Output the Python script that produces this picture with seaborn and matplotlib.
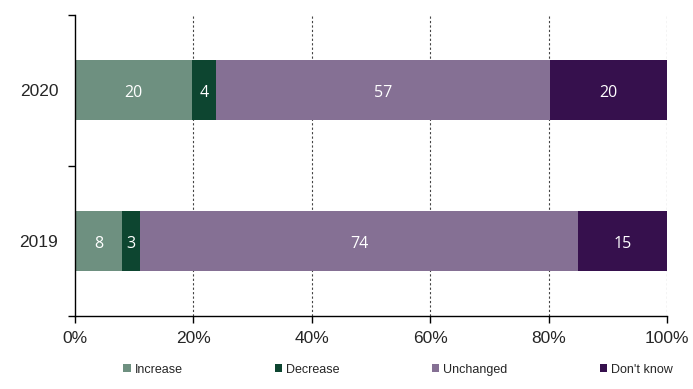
import pandas as pd
import numpy as np
import seaborn as sns
import matplotlib.pyplot as plt
from matplotlib.patches import Patch

years = ['2020', '2019']
categories = ['Increase', 'Decrease', 'Unchanged', "Don't know"]
increase = [20, 8]
decrease = [4, 3]
unchanged = [57, 74]
dont_know = [20, 15]
colors = ['#6e9080', '#0d4530', '#857094', '#36104d']

sns.set_style('white')
plt.rcParams['font.family'] = ['Liberation Sans', 'DejaVu Sans']

vals = np.array([increase, decrease, unchanged, dont_know], dtype=float)
shares = vals / vals.sum(axis=0) * 100
cum = shares.cumsum(axis=0)

fig = plt.figure(figsize=(6.93, 3.89), dpi=100)
ax = fig.add_axes([75/693, 1-316/389, (667-75)/693, (316-15)/389])

# draw cumulative totals from the widest down so the segments stack
for i in range(len(categories) - 1, -1, -1):
    df = pd.DataFrame({'year': years, 'value': cum[i]})
    sns.barplot(data=df, x='value', y='year', orient='h', color=colors[i],
                width=0.4, saturation=1, linewidth=0, ax=ax, zorder=2)

for j in range(len(years)):
    for i in range(len(categories)):
        center = cum[i, j] - shares[i, j] / 2
        ax.text(center, j + 0.02, str(int(vals[i, j])), ha='center', va='center',
                color='white', fontsize=11.5, family=['Open Sans', 'DejaVu Sans'])

ax.set_xlim(0, 100)
ax.set_ylim(1.5, -0.5)
ax.set_xticks([0, 20, 40, 60, 80, 100])
ax.set_xticklabels(['0%', '20%', '40%', '60%', '80%', '100%'], fontsize=12.5)
ax.set_yticks([-0.5, 0.5, 1.5])
ax.set_yticklabels([])
ax.set_yticks([0, 1], minor=True)
ax.set_yticklabels(years, minor=True, fontsize=12.5)
ax.tick_params(axis='y', which='minor', length=0, pad=12)
ax.tick_params(axis='y', which='major', length=5, width=1, color='black', direction='out', left=True)
ax.tick_params(axis='x', length=5, width=1, color='black', direction='out', bottom=True, pad=6)
ax.set_xlabel('')
ax.set_ylabel('')

for x in [20, 40, 60, 80, 100]:
    ax.axvline(x, color='#444444', linestyle=(0, (2, 2)), linewidth=0.8, zorder=1)

for s in ['top', 'right']:
    ax.spines[s].set_visible(False)
for s in ['left', 'bottom']:
    ax.spines[s].set_color('black')
    ax.spines[s].set_linewidth(1)

handles = [Patch(facecolor=c, edgecolor='none') for c in colors]
fig.legend(handles, categories, loc='lower left', ncol=4, mode='expand',
           bbox_to_anchor=(112/693, 0.005, (684-112)/693, 0.08),
           frameon=False, fontsize=9, handlelength=0.6, handleheight=0.6,
           handletextpad=0.3)

fig.savefig('out.png', dpi=100)
